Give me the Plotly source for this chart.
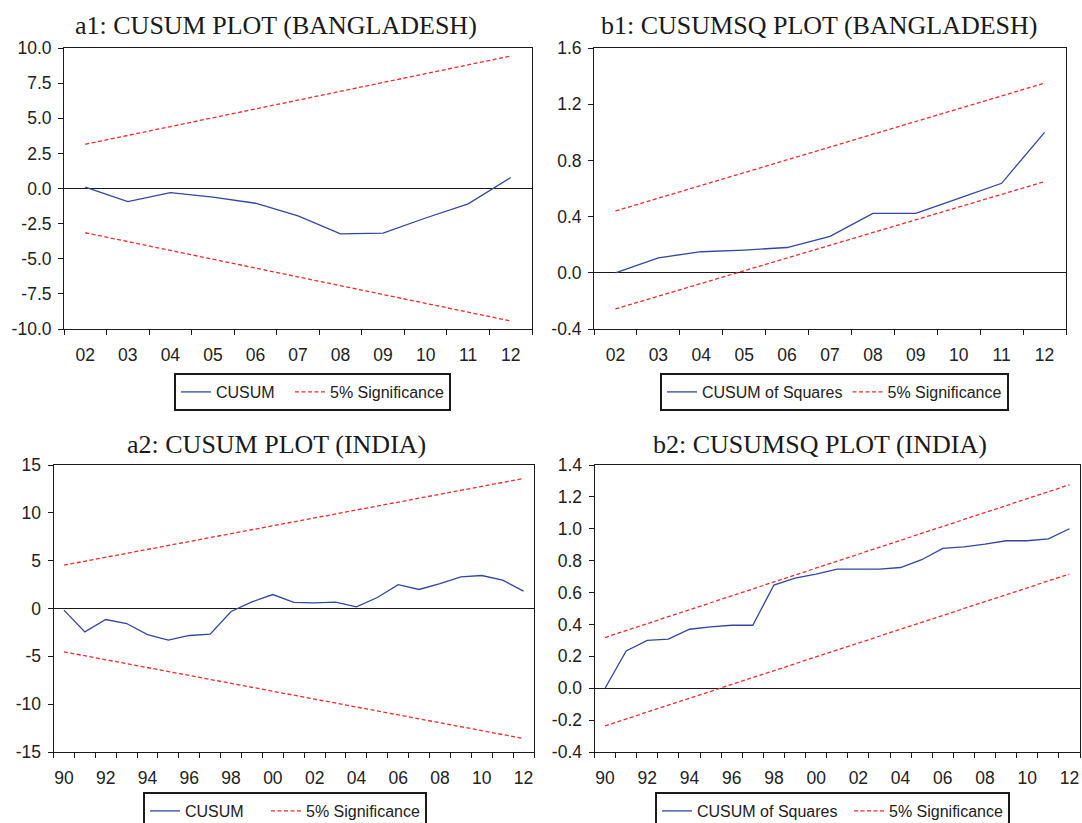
import plotly.graph_objects as go

# ---------------- data ----------------
bd_years = ['02', '03', '04', '05', '06', '07', '08', '09', '10', '11', '12']
bd_cusum = [0.1, -0.93, -0.29, -0.62, -1.05, -1.95, -3.23, -3.18, -2.1, -1.09, 0.78]
bd_cusum_upper = [3.15, 9.43]
bd_cusum_lower = [-3.15, -9.43]

bd_cusumsq = [0.0, 0.107, 0.15, 0.162, 0.18, 0.26, 0.423, 0.423, 0.53, 0.637, 1.0]
bd_cusumsq_upper = [0.44, 1.35]
bd_cusumsq_lower = [-0.257, 0.649]

in_years = ['90', '91', '92', '93', '94', '95', '96', '97', '98', '99', '00', '01',
            '02', '03', '04', '05', '06', '07', '08', '09', '10', '11', '12']
in_cusum = [-0.17, -2.44, -1.15, -1.57, -2.72, -3.31, -2.82, -2.68, -0.31, 0.7, 1.46, 0.63,
            0.59, 0.66, 0.17, 1.15, 2.5, 1.99, 2.6, 3.3, 3.45, 2.96, 1.81]
in_cusum_upper = [4.53, 13.59]
in_cusum_lower = [-4.53, -13.59]

in_cusumsq = [0.0, 0.234, 0.30, 0.308, 0.37, 0.385, 0.395, 0.395, 0.647, 0.69, 0.716, 0.747,
              0.747, 0.747, 0.757, 0.806, 0.877, 0.887, 0.904, 0.925, 0.925, 0.937, 1.0]
in_cusumsq_upper = [0.318, 1.276]
in_cusumsq_lower = [-0.236, 0.716]

# y tick labels
a1_yticks = [-10.0, -7.5, -5.0, -2.5, 0.0, 2.5, 5.0, 7.5, 10.0]
a1_ytext = ['-10.0', '-7.5', '-5.0', '-2.5', '0.0', '2.5', '5.0', '7.5', '10.0']
b1_yticks = [-0.4, 0.0, 0.4, 0.8, 1.2, 1.6]
b1_ytext = ['-0.4', '0.0', '0.4', '0.8', '1.2', '1.6']
a2_yticks = [-15, -10, -5, 0, 5, 10, 15]
a2_ytext = ['-15', '-10', '-5', '0', '5', '10', '15']
b2_yticks = [-0.4, -0.2, 0.0, 0.2, 0.4, 0.6, 0.8, 1.0, 1.2, 1.4]
b2_ytext = ['-0.4', '-0.2', '0.0', '0.2', '0.4', '0.6', '0.8', '1.0', '1.2', '1.4']

titles = ['a1: CUSUM PLOT (BANGLADESH)', 'b1: CUSUMSQ PLOT (BANGLADESH)',
          'a2: CUSUM PLOT (INDIA)', 'b2: CUSUMSQ PLOT (INDIA)']

# ---------------- style ----------------
W, H = 1082, 823
BLUE = '#3246A2'
RED = '#F02A2E'
TICKFONT = dict(family='Liberation Sans, Arial, sans-serif', size=17.5, color='#222222')
LEGFONT = dict(family='Liberation Sans, Arial, sans-serif', size=16, color='#222222')
TITLEFONT = dict(family='Liberation Serif, Times New Roman, serif', size=26, color='#1a1a1a')


def px_x(a, b):
    return [a / W, b / W]


def px_y(top, bottom):
    return [1 - bottom / H, 1 - top / H]


panels = [
    dict(xd=(64, 532), yd=(48, 329), years=bd_years, step=1, main=bd_cusum,
         up=bd_cusum_upper, lo=bd_cusum_lower, name='CUSUM', yr=[-10, 10],
         yt=a1_yticks, ytt=a1_ytext, leg='legend', legpos=(174, 373), lw=69),
    dict(xd=(594, 1066), yd=(48, 329), years=bd_years, step=1, main=bd_cusumsq,
         up=bd_cusumsq_upper, lo=bd_cusumsq_lower, name='CUSUM of Squares', yr=[-0.4, 1.6],
         yt=b1_yticks, ytt=b1_ytext, leg='legend2', legpos=(660, 373), lw=None),
    dict(xd=(53.5, 534), yd=(465, 752), years=in_years, step=2, main=in_cusum,
         up=in_cusum_upper, lo=in_cusum_lower, name='CUSUM', yr=[-15, 15],
         yt=a2_yticks, ytt=a2_ytext, leg='legend3', legpos=(143, 792), lw=76),
    dict(xd=(594.5, 1080), yd=(465, 752), years=in_years, step=2, main=in_cusumsq,
         up=in_cusumsq_upper, lo=in_cusumsq_lower, name='CUSUM of Squares', yr=[-0.4, 1.4],
         yt=b2_yticks, ytt=b2_ytext, leg='legend4', legpos=(655, 792), lw=147),
]

fig = go.Figure()
layout = dict(width=W, height=H, margin=dict(l=0, r=0, t=0, b=0, autoexpand=False),
              paper_bgcolor='white', plot_bgcolor='white', showlegend=True)

annotations = []
title_pos = [(276, 26), (819, 26), (276.5, 444), (819.5, 444)]

for i, p in enumerate(panels):
    k = '' if i == 0 else str(i + 1)
    xa, ya = 'x' + k, 'y' + k
    n = len(p['years'])
    idx = list(range(n))
    main_tr = dict(x=idx, y=p['main'], mode='lines', name=p['name'],
                   line=dict(color=BLUE, width=1.3), xaxis=xa, yaxis=ya,
                   legend=p['leg'])
    if p['lw']:
        main_tr['legendwidth'] = p['lw']
    fig.add_trace(go.Scatter(**main_tr))
    fig.add_trace(go.Scatter(
        x=[idx[0], idx[-1], None, idx[0], idx[-1]],
        y=[p['up'][0], p['up'][1], None, p['lo'][0], p['lo'][1]],
        mode='lines', name='5% Significance', connectgaps=False,
        line=dict(color=RED, width=1.3, dash='4px,2.5px'),
        xaxis=xa, yaxis=ya, legend=p['leg']))

    boundaries = [j - 0.5 for j in range(n + 1)]
    layout['xaxis' + k] = dict(
        domain=px_x(*p['xd']), anchor=ya, range=[-0.5, n - 0.5],
        tickmode='array', tickvals=idx[::p['step']], ticktext=p['years'][::p['step']],
        ticks='', ticklen=0, ticklabelstandoff=10, tickfont=TICKFONT,
        showgrid=False, zeroline=False, showline=True, mirror=True,
        linecolor='#1a1a1a', linewidth=1, automargin=False,
        minor=dict(tickmode='array', tickvals=boundaries, ticks='outside',
                   ticklen=5, tickwidth=1, tickcolor='#1a1a1a', showgrid=False))
    layout['yaxis' + k] = dict(
        domain=px_y(*p['yd']), anchor=xa, range=p['yr'],
        tickmode='array', tickvals=p['yt'], ticktext=p['ytt'],
        ticks='outside', ticklen=5, tickwidth=1, tickcolor='#1a1a1a',
        tickfont=TICKFONT, ticklabelstandoff=3, automargin=False,
        showgrid=False, zeroline=True, zerolinecolor='#1a1a1a', zerolinewidth=1,
        showline=True, mirror=True, linecolor='#1a1a1a', linewidth=1)
    lx, ly = p['legpos']
    layout[p['leg']] = dict(
        x=lx / W, y=1 - ly / H, xanchor='left', yanchor='top', xref='paper', yref='paper',
        orientation='h', bgcolor='white', bordercolor='#1a1a1a', borderwidth=2,
        font=LEGFONT, itemwidth=30, tracegroupgap=0)
    tx, ty = title_pos[i]
    annotations.append(dict(text=titles[i], x=tx / W, y=1 - ty / H, xref='paper',
                            yref='paper', xanchor='center', yanchor='middle',
                            showarrow=False, font=TITLEFONT))

layout['annotations'] = annotations
fig.update_layout(**layout)
fig.write_html('out.html', config={'displayModeBar': False},
               post_script="document.body.style.margin='0';document.body.style.overflow='hidden';")
